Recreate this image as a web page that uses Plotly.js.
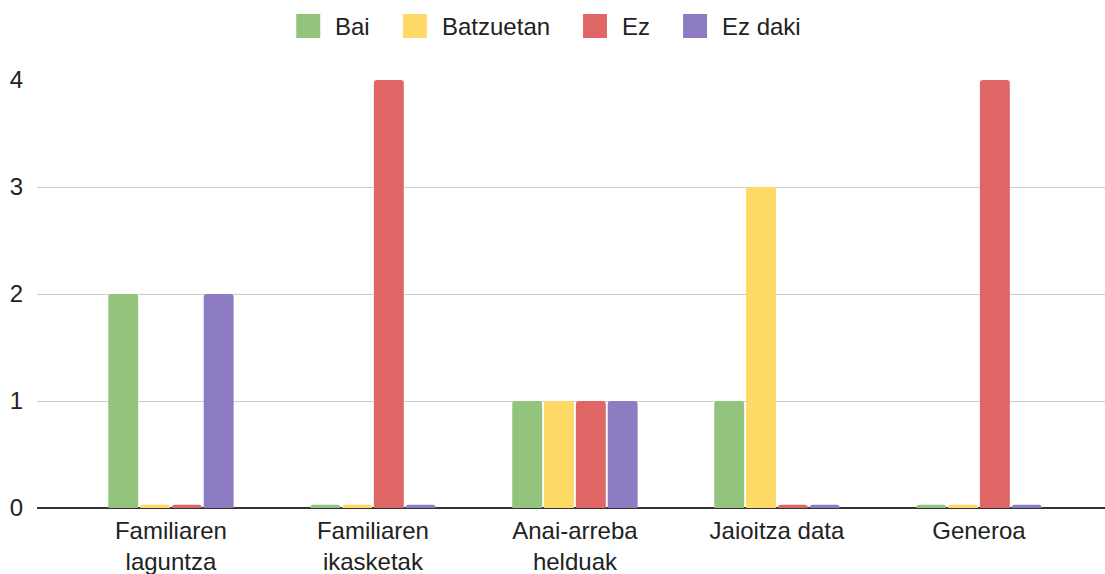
<!DOCTYPE html>
<html>
<head>
<meta charset="utf-8">
<script src="https://cdn.plot.ly/plotly-3.0.1.min.js"></script>
<style>html,body{margin:0;padding:0;background:#fff}#chart{width:1105px;height:574px}</style>
</head>
<body>
<div id="chart"></div>
<script>
const categories = ["Familiaren<br>laguntza", "Familiaren<br>ikasketak", "Anai-arreba<br>helduak", "Jaioitza data", "Generoa"];
const seriesNames = ["Bai", "Batzuetan", "Ez", "Ez daki"];
const bai = [2, 0, 1, 1, 0];
const batzuetan = [0, 0, 1, 3, 0];
const ez = [0, 4, 1, 0, 4];
const ezDaki = [2, 0, 1, 0, 0];
const yTicks = [0, 1, 2, 3, 4];

const colors = ["#93c47d", "#ffd966", "#e06666", "#8e7cc3"];
const allSeries = [bai, batzuetan, ez, ezDaki];
const zeroStub = 0.03; // Google-style visible stub for zero values

const W = 1105, H = 574;
const M = { l: 37, r: 0, t: 80, b: 66 };
const FONT = "'Liberation Sans', Arial, sans-serif";
const FS = 24;

const traces = allSeries.map((vals, i) => ({
  type: "bar",
  name: seriesNames[i],
  x: categories,
  y: vals.map(v => v === 0 ? zeroStub : v),
  customdata: vals,
  hovertemplate: "%{customdata}<extra>" + seriesNames[i] + "</extra>",
  marker: { color: colors[i], cornerradius: 3 },
  showlegend: false
}));

// custom legend (Google-style large squares)
const cnv = document.createElement("canvas").getContext("2d");
cnv.font = FS + "px " + FONT;
const sq = 24, txtGap = 14, itemGap = 34;
const widths = seriesNames.map(n => cnv.measureText(n).width);
let total = 0;
widths.forEach((w, i) => { total += sq + txtGap + w + (i < widths.length - 1 ? itemGap : 0); });
const legendCx = 548, legendCy = 26;
const pw = W - M.l - M.r, ph = H - M.t - M.b;
const px2x = p => (p - M.l) / pw;
const py2y = p => (H - M.b - p) / ph;
const shapes = [], annotations = [];
let cx = legendCx - total / 2;
seriesNames.forEach((n, i) => {
  shapes.push({
    type: "rect", xref: "paper", yref: "paper", layer: "above",
    x0: px2x(cx), x1: px2x(cx + sq), y0: py2y(legendCy + sq / 2), y1: py2y(legendCy - sq / 2),
    fillcolor: colors[i], line: { width: 0 }
  });
  annotations.push({
    xref: "paper", yref: "paper", x: px2x(cx + sq + txtGap), y: py2y(legendCy),
    xanchor: "left", yanchor: "middle", showarrow: false, borderpad: 0,
    text: n, font: { family: FONT, size: FS, color: "#222" }
  });
  cx += sq + txtGap + widths[i] + itemGap;
});

const layout = {
  width: W, height: H,
  margin: M,
  paper_bgcolor: "#fff", plot_bgcolor: "#fff",
  font: { family: FONT, size: FS, color: "#222" },
  barmode: "group",
  bargap: 0.37,
  bargroupgap: 0.06,
  showlegend: false,
  shapes: shapes,
  annotations: annotations,
  xaxis: {
    type: "category",
    range: [-0.663, 4.624],
    showgrid: false, showline: false, ticks: "",
    tickfont: { family: FONT, size: FS, color: "#222" },
    ticklabelstandoff: 6,
    fixedrange: true
  },
  yaxis: {
    range: [0, 4],
    tickvals: yTicks,
    ticktext: yTicks.map(String),
    showgrid: true, gridcolor: "#cccccc", gridwidth: 1,
    zeroline: true, zerolinecolor: "#333333", zerolinewidth: 2,
    showline: false, ticks: "",
    tickfont: { family: FONT, size: FS, color: "#222" },
    ticklabelstandoff: 13,
    fixedrange: true
  }
};

Plotly.newPlot("chart", traces, layout, { displayModeBar: false, staticPlot: true });
</script>
</body>
</html>
